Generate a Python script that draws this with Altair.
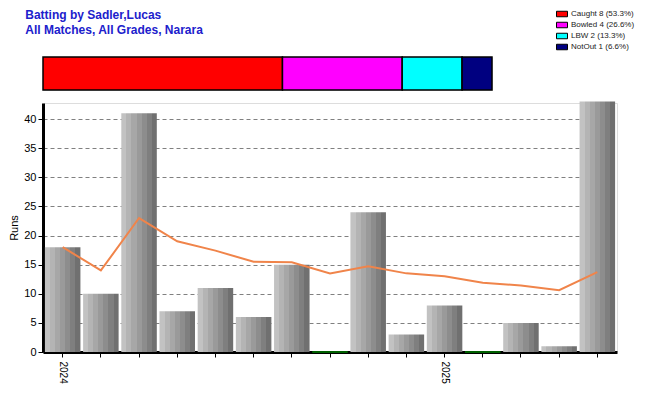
import altair as alt
import pandas as pd

# ---- data ----
innings = list(range(1, 16))
runs = [18, 10, 41, 7, 11, 6, 15, 0, 24, 3, 8, 0, 5, 1, 43]
average = [18, 14, 23, 19, 17.4, 15.5, 15.4, 13.5, 14.7, 13.5, 13, 11.9, 11.4, 10.6, 13.7]
season_labels = {1: "2024", 11: "2025"}

dismissal_labels = ["Caught 8 (53.3%)", "Bowled 4 (26.6%)", "LBW 2 (13.3%)", "NotOut 1 (6.6%)"]
dismissal_counts = [8, 4, 2, 1]
dismissal_colors = ["#ff0000", "#ff00ff", "#00ffff", "#000080"]

y_ticks = [0, 5, 10, 15, 20, 25, 30, 35, 40]

# ---- tables ----
df = pd.DataFrame({"inn": innings, "runs": runs, "avg": average})
dis_df = pd.DataFrame({
    "label": dismissal_labels,
    "count": dismissal_counts,
    "order": list(range(len(dismissal_labels))),
    "row": ["r"] * len(dismissal_labels),
})

label_expr = " : ".join(
    [f"datum.value == {k} ? '{v}'" for k, v in season_labels.items()]
) + " : ''"

FONT = "Arial, Liberation Sans, sans-serif"

stripes = ["#c2c2c2", "#b4b4b4", "#a7a7a7", "#9a9a9a", "#8d8d8d", "#7f7f7f", "#707070"]
stops = []
n = len(stripes)
for i, c in enumerate(stripes):
    stops.append({"offset": i / n, "color": c})
    stops.append({"offset": (i + 1) / n - 0.0001, "color": c})
bar_gradient = {"gradient": "linear", "x1": 0, "x2": 1, "y1": 0, "y2": 0, "stops": stops}

# ---- top dismissal bar ----
top = alt.Chart(dis_df).mark_bar(stroke="black", strokeWidth=1.5).encode(
    x=alt.X("count:Q", stack="zero", axis=None,
            scale=alt.Scale(domain=[0, sum(dismissal_counts)], nice=False)),
    y=alt.Y("row:N", axis=None, scale=alt.Scale(paddingInner=0, paddingOuter=0)),
    color=alt.Color(
        "label:N",
        scale=alt.Scale(domain=dismissal_labels, range=dismissal_colors),
        legend=alt.Legend(
            title=None, orient="none", legendX=513, legendY=-49,
            symbolType="M-1,-0.5H1V0.5H-1Z", symbolSize=121,
            symbolStrokeColor="black", symbolStrokeWidth=1, symbolOpacity=1,
            labelFontSize=8, labelFont=FONT, labelColor="#222222",
            rowPadding=0, labelOffset=3, padding=0,
        ),
    ),
    order=alt.Order("order:Q"),
).properties(
    width=449, height=33,
    title=alt.TitleParams(
        text=["Batting by Sadler,Lucas", "All Matches, All Grades, Narara"],
        anchor="start", fontSize=12, fontWeight="bold", color="#2020cc",
        font=FONT, lineHeight=15, offset=19, dx=-17,
    ),
)

# ---- main chart ----
x_enc = alt.X(
    "inn:O",
    scale=alt.Scale(paddingInner=0.07, paddingOuter=0.05),
    axis=alt.Axis(
        title=None, labelExpr=label_expr, labelAngle=90, labelFontSize=10,
        labelColor="black", labelFont=FONT, labelPadding=4,
        domainWidth=3, domainColor="black", tickColor="black", tickSize=5,
        ticks=True, grid=False,
    ),
)
y_scale = alt.Scale(domain=[0, 42.75], nice=False)
y_axis = alt.Axis(
    values=y_ticks, grid=True, gridDash=[4, 3], gridColor="#808080",
    gridWidth=1, domainWidth=3, domainColor="black", tickColor="black",
    tickSize=5, labelFontSize=11, labelColor="black", labelFont=FONT,
    labelPadding=2, labelOverlap=False, title="Runs", titleFontWeight="normal",
    titleFontSize=11, titleFont=FONT, titleColor="black", titlePadding=4,
)

bars = alt.Chart(df).mark_bar(color=bar_gradient).encode(
    x=x_enc,
    y=alt.Y("runs:Q", scale=y_scale, axis=y_axis),
)

zeros = alt.Chart(df).transform_filter("datum.runs == 0").mark_bar(
    fill="#008000", stroke="#008000", strokeWidth=1.5
).encode(x=x_enc, y=alt.Y("runs:Q", scale=y_scale, axis=y_axis))

avg_line = alt.Chart(df).mark_line(color="#f0844a", strokeWidth=2).encode(
    x=x_enc, y=alt.Y("avg:Q", scale=y_scale, axis=y_axis)
)

main = alt.layer(bars, zeros, avg_line).properties(width=574, height=249)

chart = alt.vconcat(top, main, spacing=13, bounds="flush").properties(
    padding={"left": 0, "top": 0, "right": 0, "bottom": 0}
).configure_view(stroke=None).configure(background="white")

chart.save("out.html", embed_options={"renderer": "svg", "actions": False})
